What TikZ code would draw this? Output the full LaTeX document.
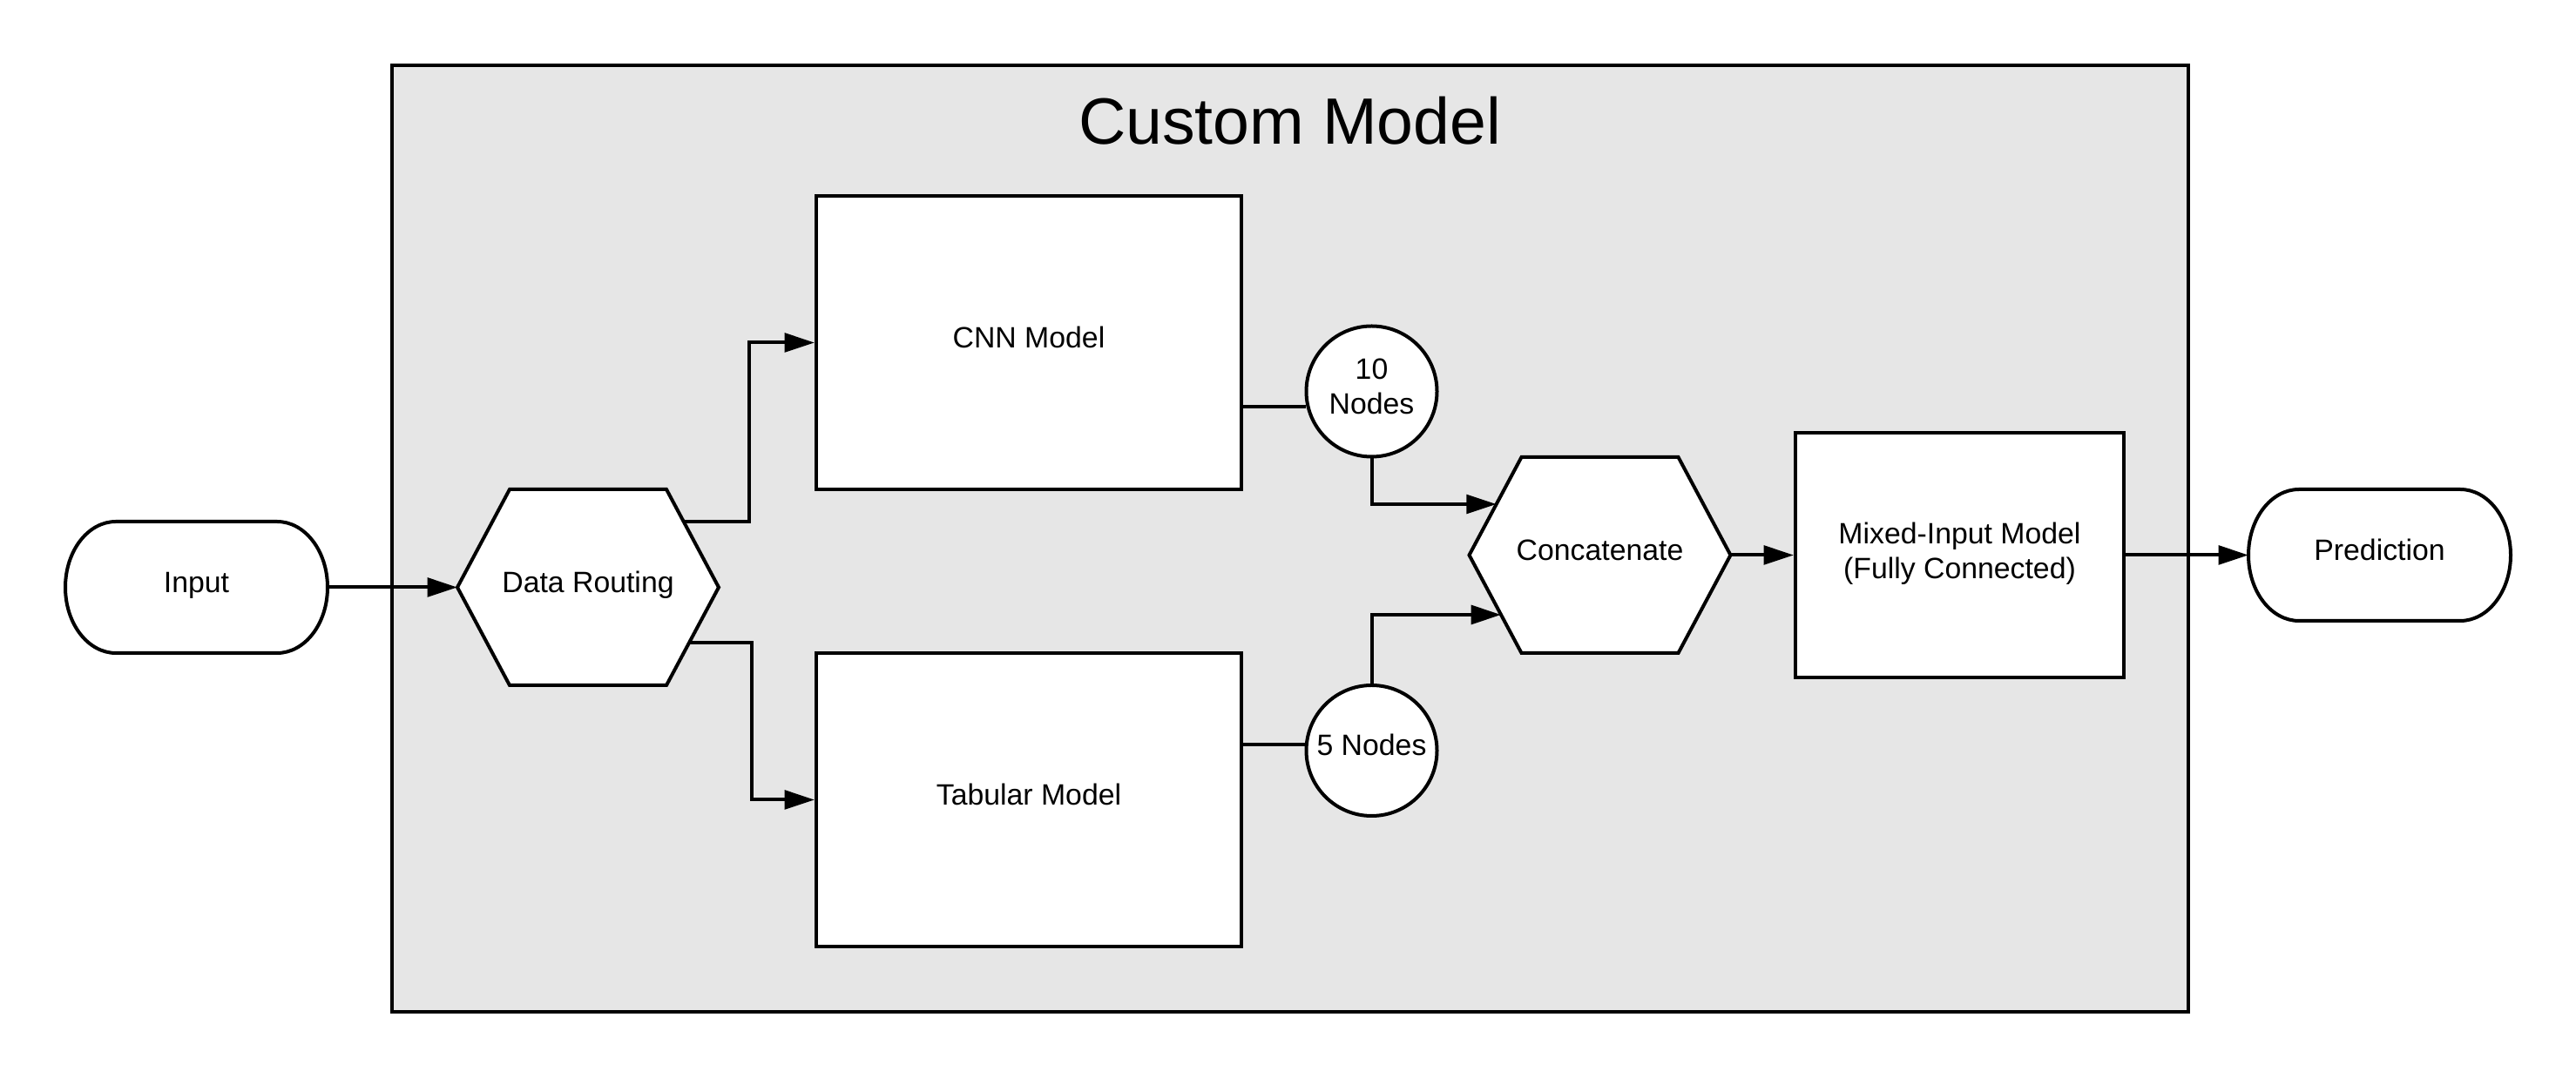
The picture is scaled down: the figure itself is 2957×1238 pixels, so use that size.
\documentclass[tikz,border=0pt]{standalone}
\usepackage{fontspec}
\setmainfont{Liberation Sans}
\usetikzlibrary{arrows.meta,calc}
\pgfdeclarelayer{bg}
\pgfdeclarelayer{shp}
\pgfsetlayers{bg,shp,main}
\definecolor{framegray}{RGB}{230,230,230}
\newcommand{\drawhex}[1]{%
  \draw[lw,fill=white] (#1.west) -- ([xshift=15pt]#1.north west) -- ([xshift=-15pt]#1.north east)
    -- (#1.east) -- ([xshift=-15pt]#1.south east) -- ([xshift=15pt]#1.south west) -- cycle;}
\newcommand{\drawterm}[1]{%
  \draw[lw,fill=white] ([xshift=14.5pt]#1.north west) -- ([xshift=-14.5pt]#1.north east)
    arc[start angle=90,end angle=-90,x radius=14.5pt,y radius=18.875pt]
    -- ([xshift=14.5pt]#1.south west)
    arc[start angle=270,end angle=90,x radius=14.5pt,y radius=18.875pt] -- cycle;}
\tikzset{
  lw/.style={line width=1pt, draw=black},
  lblfont/.style={font=\fontsize{8.45pt}{10pt}\selectfont},
  oneline/.style={lblfont, text height=5.8pt, text depth=3pt},
  frame/.style={lw, fill=framegray, minimum width=515.5pt, minimum height=271.8pt, inner sep=0pt, outer sep=0pt},
  titletxt/.style={font=\fontsize{18.8pt}{22pt}\selectfont, inner sep=0pt},
  term/.style={oneline, minimum width=75.25pt, minimum height=37.75pt, inner sep=0pt, outer sep=0pt},
  hexn/.style={oneline, minimum width=75pt, minimum height=56.25pt, inner sep=0pt, outer sep=0pt},
  box/.style={lw, fill=white, rectangle, inner sep=0pt},
  circ/.style={lw, fill=white, circle, minimum size=37.5pt, inner sep=0pt, align=center},
  conn/.style={lw, -{Triangle[length=8.6pt,width=5.4pt]}},
}
\begin{document}
\begin{tikzpicture}[x=0.25pt,y=-0.25pt]
\useasboundingbox (0,0) rectangle (2957,1238);
\begin{pgfonlayer}{bg}
\node[frame] (frame) at (1480.5,618.4) {};
\end{pgfonlayer}
\node[titletxt, anchor=base] (title) at (1480.5,165.3) {Custom Model};

\node[term] (in) at (225.5,674.5) {Input};
\node[term] (pred) at (2731.5,637.5) {Prediction};
\node[hexn] (dr) at (675,674.5) {Data Routing};
\node[hexn] (cc) at (1836.5,637.5) {Concatenate};
\node[box, oneline, minimum width=122pt, minimum height=84.25pt] (cnn) at (1181,393.5) {CNN Model};
\node[box, oneline, minimum width=122pt, minimum height=84.25pt] (tab) at (1181,918.5) {Tabular Model};
\node[box, minimum width=94.25pt, minimum height=70.25pt] (mix) at (2249.5,637.5) {};
\node[lblfont, align=center, inner sep=0pt, yshift=0.5pt] (mixtxt) at (mix.center) {Mixed-Input Model\\(Fully Connected)};
\node[circ] (n10) at (1574.5,449.5) {};
\node[lblfont, align=center, inner sep=0pt, yshift=1.5pt] (n10txt) at (n10.center) {10\\Nodes};
\node[circ, oneline] (n5) at (1574.5,862) {5 Nodes};

\begin{pgfonlayer}{shp}
\drawhex{dr}
\drawhex{cc}
\drawterm{in}
\drawterm{pred}
\end{pgfonlayer}

\coordinate (drNE) at ([xshift=-15pt]dr.north east);
\coordinate (drSE) at ([xshift=-15pt]dr.south east);
\coordinate (s1) at ($(dr.east)!0.671!(drNE)$);
\coordinate (s2) at ($(dr.east)!0.562!(drSE)$);
\coordinate (ccNW) at ([xshift=15pt]cc.north west);
\coordinate (ccSW) at ([xshift=15pt]cc.south west);
\coordinate (t1) at ($(cc.west)!0.52!(ccNW)$);
\coordinate (t2) at ($(cc.west)!0.609!(ccSW)$);

\draw[conn] (in.east) -- (dr.west);
\draw[conn] (s1) -| ($(s1)!.5!(cnn.west)$) |- (cnn.west);
\draw[conn] (s2) -| ($(s2)!.5!(tab.west)$) |- (tab.west);
\draw[lw] (n10.193) -- (n10.193 -| cnn.east);
\draw[lw] (n5.175) -- (n5.175 -| tab.east);
\draw[conn] (n10.south) |- (t1);
\draw[conn] (n5.north) |- (t2);
\draw[conn] (cc.east) -- (mix.west);
\draw[conn] (mix.east) -- (pred.west);
\end{tikzpicture}
\end{document}
